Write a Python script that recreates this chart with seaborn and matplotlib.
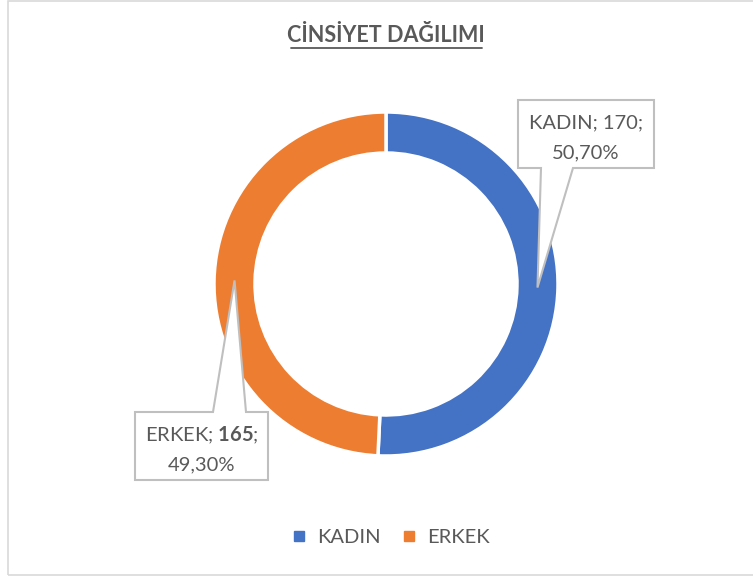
import numpy as np
import matplotlib
matplotlib.use('Agg')
import matplotlib.pyplot as plt
import seaborn as sns
from matplotlib.patches import Polygon, Rectangle
from matplotlib.lines import Line2D

# Veriler
kategoriler = ['KADIN', 'ERKEK']
degerler = [170, 165]
yuzdeler = ['50,70%', '49,30%']
renkler = ['#4472C4', '#ED7D31']

sns.set_theme(style='white')
plt.rcParams['font.family'] = ['Lato', 'DejaVu Sans']
plt.rcParams['mathtext.fontset'] = 'custom'
plt.rcParams['mathtext.rm'] = 'Lato'
plt.rcParams['mathtext.bf'] = 'Lato:bold'

W, H = 753, 576
fig = plt.figure(figsize=(W / 100, H / 100), dpi=100)
ax = fig.add_axes([0, 0, 1, 1])

# Piksel benzeri koordinatlar (y yukarı)
merkez = (386, H - 284)
R = 172
halka = 41

ax.pie(degerler, colors=renkler, startangle=90, counterclock=False,
       radius=R, center=merkez,
       wedgeprops=dict(width=halka, edgecolor='white', linewidth=2.5))
ax.set_xlim(0, W)
ax.set_ylim(0, H)
ax.set_aspect('equal')
ax.axis('off')

# Dış çerçeve
ax.add_patch(Rectangle((8, 1), W, H - 2, fill=False, edgecolor='#D9D9D9', lw=1.2))

# Başlık
ax.text(386, H - 36, 'CİNSİYET DAĞILIMI', ha='center', va='center',
        fontsize=15.5, fontweight='bold', color='#595959')
ax.plot([291, 482], [H - 48, H - 48], color='#595959', lw=1.3)

# Etiket çapaları: halkanın ortasında, dilim ortası açısında
toplam = sum(degerler)
bas = 90.0
capalar = []
for d in degerler:
    aci = bas - 360 * d / toplam / 2
    r = R - halka / 2
    capalar.append((merkez[0] + r * np.cos(np.radians(aci)),
                    merkez[1] + r * np.sin(np.radians(aci))))
    bas -= 360 * d / toplam

gri = '#BFBFBF'
yazi = '#595959'
fs = 14.5

# KADIN etiketi (kutu üstte, ok aşağıda)
x0, x1, yt, yb = 518, 654, H - 100, H - 168
ax_, ay_ = capalar[0]
ax.add_patch(Polygon([(x0, yt), (x1, yt), (x1, yb), (573, yb), (ax_, ay_),
                      (541, yb), (x0, yb)], closed=True,
                     facecolor='white', edgecolor=gri, lw=1.5, zorder=5))
ax.text((x0 + x1) / 2, H - 123, f'{kategoriler[0]}; {degerler[0]};',
        ha='center', va='center', fontsize=fs, color=yazi, zorder=6)
ax.text((x0 + x1) / 2, H - 153, yuzdeler[0],
        ha='center', va='center', fontsize=fs, color=yazi, zorder=6)

# ERKEK etiketi (kutu altta, ok yukarı)
x0, x1, yt, yb = 135, 268, H - 412, H - 480
bx, by = capalar[1]
ax.add_patch(Polygon([(x0, yt), (213, yt), (bx, by), (246, yt), (x1, yt),
                      (x1, yb), (x0, yb)], closed=True,
                     facecolor='white', edgecolor=gri, lw=1.5, zorder=5))
ax.text((x0 + x1) / 2, H - 435,
        f'{kategoriler[1]}; $\\mathbf{{{degerler[1]}}}$;',
        ha='center', va='center', fontsize=fs, color=yazi, zorder=6)
ax.text((x0 + x1) / 2, H - 465, yuzdeler[1],
        ha='center', va='center', fontsize=fs, color=yazi, zorder=6)

# Lejant
tutamaclar = [Line2D([0], [0], marker='s', linestyle='', markersize=7,
                     markerfacecolor=c, markeredgecolor=c) for c in renkler]
fig.legend(tutamaclar, kategoriler, loc='center', bbox_to_anchor=(391 / W, 1 - 537 / H),
           ncol=2, frameon=False, fontsize=fs, labelcolor=yazi,
           handlelength=0.6, handletextpad=0.6, columnspacing=1.1)

fig.savefig('out.png', dpi=100, facecolor='white')
